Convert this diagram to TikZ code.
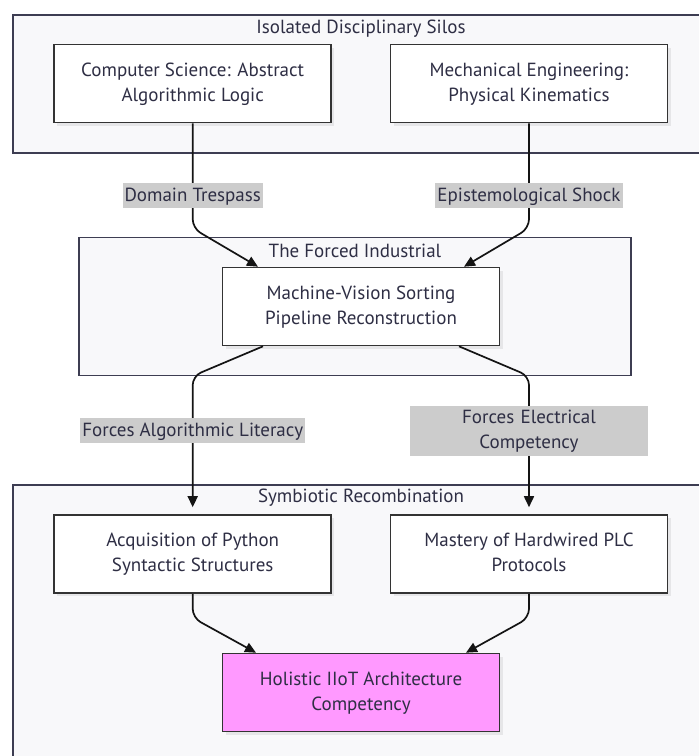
\documentclass[tikz,border=0pt]{standalone}
\usepackage{fontspec}
\setmainfont{PT Sans}
\usetikzlibrary{arrows.meta,shadows}
\definecolor{clfill}{HTML}{F8F8FA}
\definecolor{clline}{HTML}{3D3D52}
\definecolor{ndline}{HTML}{333333}
\definecolor{txtc}{HTML}{2E2E44}
\definecolor{lblbg}{HTML}{CCCCCC}
\definecolor{pinkfill}{HTML}{FF99FF}
\begin{document}
\begin{tikzpicture}[x=1pt,y=-1pt,
  font=\fontsize{19}{25}\selectfont, text=txtc,
  cluster/.style={draw=clline, line width=1.6pt, fill=clfill},
  cltitle/.style={inner sep=0pt},
  box/.style={draw=ndline, line width=1.6pt, fill=white, minimum width=277pt,
    minimum height=78pt, align=center, inner sep=0pt,
    drop shadow={shadow xshift=3pt, shadow yshift=-3pt, fill=black, opacity=0.07}},
  goalbox/.style={box, fill=pinkfill},
  edge/.style={draw=black!92, line width=1.7pt, rounded corners=9pt,
    -{Triangle[length=11pt,width=10pt]}},
  elabel/.style={fill=lblbg, inner xsep=2pt, inner ysep=0pt, minimum height=25pt,
    text depth=0.25ex, rounded corners=0pt},
  elabelwide/.style={fill=lblbg, text width=234pt, align=center, inner xsep=2pt,
    inner ysep=0pt, rounded corners=0pt}
]
\useasboundingbox (0,0) rectangle (699,756);
\clip (0,0) rectangle (699,756);

% clusters
\draw[cluster] (12.7,14.7) rectangle (709,152.7);
\node[cltitle] (t1) at (361,29) {Isolated Disciplinary Silos};
\draw[cluster] (79,237.5) rectangle (631,375.5);
\node[cltitle] (t2) at (355,251) {The Forced Industrial};
\draw[cluster] (12.7,485) rectangle (709,780);
\node[cltitle] (t3) at (361,498) {Symbiotic Recombination};

% nodes
\node[box] (cs)  at (192.7,83.5) {\strut Computer Science: Abstract\\\strut Algorithmic Logic};
\node[box] (me)  at (529,83.5) {\strut Mechanical Engineering:\\\strut Physical Kinematics};
\node[box] (mid) at (361,306.5) {\strut Machine-Vision Sorting\\\strut Pipeline Reconstruction};
\node[box] (py)  at (192.7,554) {\strut Acquisition of Python\\\strut Syntactic Structures};
\node[box] (plc) at (529,554) {\strut Mastery of Hardwired PLC\\\strut Protocols};
\node[goalbox] (hol) at (361,692.5) {\strut Holistic IIoT Architecture\\\strut Competency};

% edges
\draw[edge] (cs.south) -- node[elabel,pos=0.69] {Domain Trespass} ++(0,105)
  -- ([xshift=-103pt]mid.north);
\draw[edge] (me.south) -- node[elabel,pos=0.69] {Epistemological Shock} ++(0,105)
  -- ([xshift=103pt]mid.north);
\draw[edge] ([xshift=-98pt]mid.south) -- (py.north |- 0,376)
  -- node[elabel,pos=0.417] {Forces Algorithmic Literacy} ([yshift=7pt]py.north);
\draw[edge] ([xshift=98pt]mid.south) -- (plc.north |- 0,376)
  -- node[elabelwide,pos=0.417] {\strut Forces Electrical\\\strut Competency} ([yshift=7pt]plc.north);
\draw[edge] (py.south) -- ++(0,24) -- ([xshift=-105pt]hol.north);
\draw[edge] (plc.south) -- ++(0,24) -- ([xshift=105pt]hol.north);
\end{tikzpicture}
\end{document}
